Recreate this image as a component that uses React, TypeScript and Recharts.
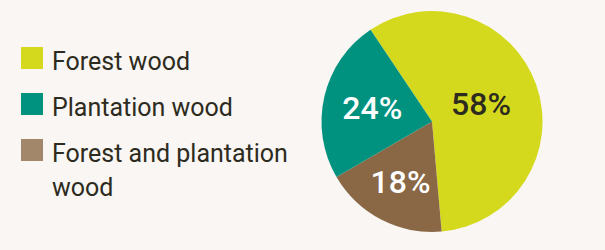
import { PieChart, Pie, Cell } from 'recharts';

// #region data
const categories = ['Forest wood', 'Forest and plantation wood', 'Plantation wood'];
const shares = [58, 18, 24];
const legendOrder = ['Forest wood', 'Plantation wood', 'Forest and plantation wood'];
// #endregion

const sliceColor: Record<string, string> = {
  'Forest wood': '#d4d91e',
  'Plantation wood': '#00927f',
  'Forest and plantation wood': '#8a6846',
};
const legendColor: Record<string, string> = {
  'Forest wood': '#d4d91e',
  'Plantation wood': '#00927f',
  'Forest and plantation wood': '#a3876a',
};
const labelColor: Record<string, string> = {
  'Forest wood': '#2d2b20',
  'Plantation wood': '#ffffff',
  'Forest and plantation wood': '#ffffff',
};
// how far out each label sits, as part of the radius
const labelRadius: Record<string, number> = {
  'Forest wood': 0.47,
  'Plantation wood': 0.555,
  'Forest and plantation wood': 0.62,
};

const data = categories.map((name, i) => ({ name, value: shares[i] }));

const RAD = Math.PI / 180;
const renderLabel = (props: any) => {
  const { cx, cy, midAngle, outerRadius, name, value } = props;
  const r = outerRadius * labelRadius[name];
  const x = cx + r * Math.cos(-midAngle * RAD);
  const y = cy + r * Math.sin(-midAngle * RAD);
  return (
    <text
      x={x}
      y={y}
      fill={labelColor[name]}
      textAnchor="middle"
      dominantBaseline="central"
      fontSize={32}
      fontWeight={500}
      fontFamily="Roboto"
    >
      {value}%
    </text>
  );
};

const LegendBox = () => (
  <div
    style={{
      position: 'absolute',
      left: 21,
      top: 44.5,
      fontFamily: 'Roboto',
      fontSize: 25,
      lineHeight: '34px',
      color: '#2d2b20',
    }}
  >
    {legendOrder.map((name) => (
      <div key={name} style={{ display: 'flex', alignItems: 'flex-start', marginBottom: 12 }}>
        <div style={{ width: 22, height: 22, marginTop: 2, background: legendColor[name], flexShrink: 0 }} />
        <div style={{ marginLeft: 9, width: 245 }}>{name}</div>
      </div>
    ))}
  </div>
);

const App = () => {
  return (
    <div style={{ position: 'absolute', left: 0, top: 0, width: 605, height: 250, background: '#f9f6f3' }}>
      <PieChart width={605} height={250} margin={{ top: 0, right: 0, bottom: 0, left: 0 }}>
        <Pie
          data={data}
          dataKey="value"
          nameKey="name"
          cx={432}
          cy={121.5}
          outerRadius={110.5}
          startAngle={123.8}
          endAngle={-236.2}
          stroke="none"
          label={renderLabel}
          labelLine={false}
          isAnimationActive={false}
        >
          {data.map((d) => (
            <Cell key={d.name} fill={sliceColor[d.name]} />
          ))}
        </Pie>
      </PieChart>
      <LegendBox />
    </div>
  );
};

export default App;
